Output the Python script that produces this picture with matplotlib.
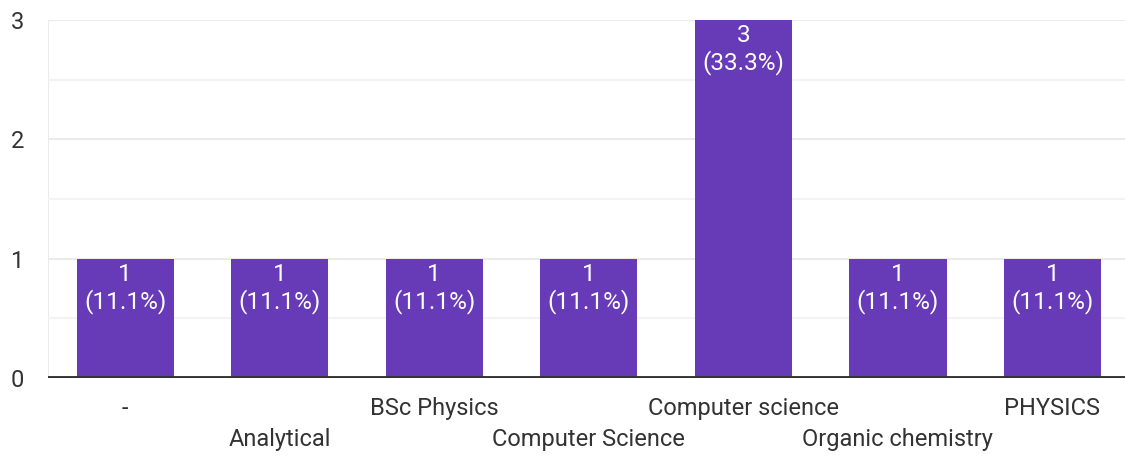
import matplotlib.pyplot as plt

# answers and counts
categories = ['-', 'Analytical', 'BSc Physics', 'Computer Science',
              'Computer science', 'Organic chemistry', 'PHYSICS']
counts = [1, 1, 1, 1, 3, 1, 1]
total = sum(counts)

plt.rcParams['font.family'] = ['Roboto', 'DejaVu Sans']

fig = plt.figure(figsize=(11.25, 4.57), dpi=100)
ax = fig.add_axes([48 / 1125, 79 / 457, 1 - 48 / 1125, 358 / 457])

x = list(range(len(categories)))
ax.bar(x, counts, width=0.63, color='#673ab7', zorder=3)

# value labels inside the top of each bar
for xi, c in zip(x, counts):
    ax.annotate('%d\n(%.1f%%)' % (c, c / total * 100), (xi, c),
                xytext=(0, -3), textcoords='offset points',
                ha='center', va='top', color='white', fontsize=17.5,
                linespacing=1.17, zorder=4)

ax.set_xlim(-0.5, 6.47)
ax.set_ylim(0, 3)
ax.set_yticks([0, 1, 2, 3])
ax.set_yticks([0.5, 1.5, 2.5], minor=True)
ax.grid(axis='y', which='major', color='#ebebeb', lw=1.5, zorder=0)
ax.grid(axis='y', which='minor', color='#f3f3f3', lw=1.5, zorder=0)
ax.axvline(-0.5, color='#ebebeb', lw=1.5, zorder=0)
ax.axhline(0, color='#333333', lw=2.8, zorder=5)

for s in ax.spines.values():
    s.set_visible(False)

ax.tick_params(axis='both', which='both', length=0, labelsize=17,
               labelcolor='#333333')
ax.tick_params(axis='y', pad=27)
ax.set_yticklabels(['0', '1', '2', '3'], ha='left')

# stagger the category names: even ones on the first row, odd ones below
ax.set_xticks(x[0::2])
ax.set_xticklabels(categories[0::2])
ax.set_xticks(x[1::2], minor=True)
ax.set_xticklabels(categories[1::2], minor=True)
ax.tick_params(axis='x', which='major', pad=14)
ax.tick_params(axis='x', which='minor', pad=36)

fig.savefig('out.png', dpi=100)
